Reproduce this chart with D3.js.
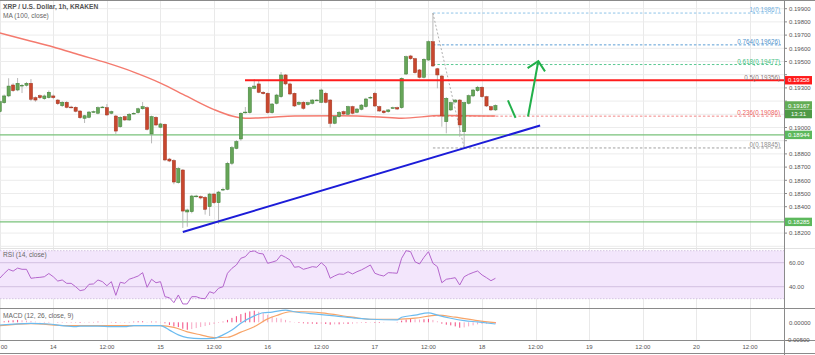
<!DOCTYPE html>
<html><head><meta charset="utf-8">
<script src="https://cdn.jsdelivr.net/npm/d3@7"></script>
<style>
body{margin:0;background:#fff;overflow:hidden}
text{font-family:"Liberation Sans","DejaVu Sans",sans-serif}
</style>
</head><body>
<svg id="chart" width="815" height="355"></svg>
<script>
// ---------------- DATA ----------------
// candles: 1h, index 0 = 13th 12:00
const candleOpen  = [0.19120,0.19188,0.19239,0.19322,0.19284,0.19317,0.19320,0.19335,0.19226,0.19241,0.19218,0.19226,0.19239,0.19208,0.19165,0.19191,0.19155,0.19153,0.19125,0.19070,0.19077,0.19118,0.19108,0.19153,0.19150,0.19108,0.19087,0.19006,0.19082,0.19057,0.19105,0.19112,0.19142,0.19150,0.18951,0.19077,0.19002,0.19024,0.18761,0.18750,0.18582,0.18678,0.18360,0.18362,0.18479,0.18476,0.18471,0.18400,0.18496,0.18430,0.18530,0.18532,0.18729,0.18841,0.18913,0.19112,0.19112,0.19297,0.19330,0.19267,0.19259,0.19112,0.19183,0.19233,0.19398,0.19330,0.19259,0.19176,0.19191,0.19173,0.19183,0.19206,0.19191,0.19259,0.19208,0.19032,0.19082,0.19120,0.19100,0.19158,0.19115,0.19138,0.19158,0.19226,0.19259,0.19158,0.19125,0.19120,0.19148,0.19150,0.19150,0.19405,0.19542,0.19521,0.19436,0.19380,0.19511,0.19650,0.19445,0.19390,0.19044,0.19133,0.19193,0.19208,0.18968,0.19183,0.19239,0.19279,0.19305,0.19233,0.19158,0.19133];
const candleHigh  = [0.19210,0.19250,0.19373,0.19335,0.19375,0.19330,0.19345,0.19367,0.19235,0.19250,0.19250,0.19280,0.19250,0.19215,0.19200,0.19200,0.19165,0.19160,0.19130,0.19095,0.19125,0.19128,0.19160,0.19162,0.19178,0.19128,0.19095,0.19085,0.19090,0.19110,0.19115,0.19150,0.19193,0.19160,0.19090,0.19085,0.19035,0.19030,0.18770,0.18760,0.18700,0.18685,0.18385,0.18490,0.18490,0.18485,0.18480,0.18505,0.18505,0.18520,0.18545,0.18740,0.18860,0.18905,0.19115,0.19155,0.19310,0.19367,0.19360,0.19275,0.19265,0.19185,0.19255,0.19420,0.19405,0.19340,0.19265,0.19200,0.19200,0.19195,0.19215,0.19215,0.19295,0.19270,0.19215,0.19090,0.19125,0.19128,0.19165,0.19165,0.19148,0.19178,0.19225,0.19237,0.19270,0.19165,0.19132,0.19140,0.19158,0.19158,0.19380,0.19545,0.19550,0.19528,0.19443,0.19525,0.19660,0.19867,0.19452,0.19398,0.19230,0.19195,0.19215,0.19215,0.19195,0.19250,0.19292,0.19315,0.19312,0.19240,0.19165,0.19175];
const candleLow   = [0.19110,0.19180,0.19230,0.19270,0.19275,0.19261,0.19310,0.19200,0.19195,0.19215,0.19210,0.19220,0.19215,0.19170,0.19155,0.19145,0.19145,0.19115,0.19065,0.19034,0.19070,0.19112,0.19100,0.19148,0.19088,0.19100,0.18951,0.18998,0.19050,0.19050,0.19100,0.19105,0.19135,0.18978,0.18880,0.19010,0.18995,0.18745,0.18738,0.18570,0.18575,0.18239,0.18248,0.18350,0.18470,0.18455,0.18340,0.18330,0.18420,0.18270,0.18520,0.18525,0.18715,0.18835,0.18900,0.19105,0.19105,0.19290,0.19260,0.19250,0.19105,0.19105,0.19175,0.19225,0.19320,0.19245,0.19155,0.19168,0.19135,0.19165,0.19175,0.19200,0.19185,0.19183,0.19000,0.19025,0.19075,0.19095,0.19092,0.19100,0.19108,0.19130,0.19150,0.19218,0.19155,0.19118,0.19105,0.19112,0.19142,0.19132,0.19142,0.19398,0.19512,0.19408,0.19372,0.19372,0.19505,0.19458,0.19297,0.19006,0.18956,0.19125,0.19185,0.18930,0.18845,0.19175,0.19230,0.19270,0.19225,0.19155,0.19125,0.19125];
const candleClose = [0.19196,0.19239,0.19314,0.19279,0.19335,0.19320,0.19335,0.19214,0.19208,0.19226,0.19239,0.19267,0.19226,0.19180,0.19191,0.19153,0.19153,0.19123,0.19074,0.19089,0.19117,0.19120,0.19150,0.19155,0.19095,0.19120,0.18973,0.19077,0.19057,0.19100,0.19108,0.19142,0.19158,0.18986,0.19082,0.19019,0.19027,0.18754,0.18746,0.18587,0.18689,0.18367,0.18375,0.18481,0.18481,0.18466,0.18380,0.18496,0.18430,0.18511,0.18532,0.18729,0.18847,0.18894,0.19108,0.19117,0.19302,0.19314,0.19267,0.19256,0.19112,0.19178,0.19246,0.19398,0.19330,0.19254,0.19163,0.19191,0.19145,0.19188,0.19208,0.19208,0.19284,0.19191,0.19032,0.19082,0.19115,0.19102,0.19158,0.19108,0.19140,0.19170,0.19216,0.19229,0.19163,0.19125,0.19112,0.19133,0.19150,0.19140,0.19373,0.19536,0.19521,0.19415,0.19380,0.19517,0.19650,0.19466,0.19398,0.19087,0.19221,0.19188,0.19208,0.19019,0.19188,0.19241,0.19284,0.19305,0.19233,0.19163,0.19133,0.19167];

// MA(100) read points
const maIdx = [0,6,12,18,24,30,36,42,48,52,55,60,66,76,85,90,99,111];
const maVal = [0.19716,0.19663,0.19610,0.19549,0.19489,0.19420,0.19337,0.19235,0.19136,0.19087,0.19070,0.19076,0.19087,0.19089,0.19080,0.19070,0.19091,0.19087];

// RSI(14) per candle
const rsiVal = [47,51,54.5,53,55.5,54.5,54.5,47,47.5,47.8,48.3,51,48.3,44.7,45.6,42.8,42.8,40,36.7,37.5,42,42.3,45.6,44.2,40.8,44.2,32.8,43.7,42.8,46.2,47.5,48.9,51.7,39.5,46.2,43.3,44.2,31.7,30.8,26.7,33.1,25.6,25.6,31.7,31.7,30.3,30,35.8,34.5,38.7,40,51.2,55.3,58.1,63.7,65,69.2,69.8,67.8,67.3,59.5,60.5,61.7,66.4,64.5,62.3,56.2,56.7,54.5,55.5,56.7,56.2,60,56.7,47,49,50.6,50.3,52.5,50.6,52.5,54,56,58.1,51.2,49.8,48.9,51.7,51.5,51.2,63.7,70,69.2,60.8,58.9,64.5,69.2,59.5,56.7,43.3,46.2,46.8,47.5,41.4,48.3,50.3,51.8,53.1,49.8,47.5,45,47];

// MACD(12,26,close,9)
const macdIdx = [0,7,11,14,17,18,22,25,28,30,36,38,40,42,45,48,50,52,54,57,59,61,64,66,71,75,80,83,89,90,93,96,98,101,104,107,111];
const macdVal = [-0.0008,-0.0003,-0.0005,-0.0010,-0.0013,-0.0011,-0.0011,-0.0013,-0.0013,-0.0010,-0.0010,-0.0023,-0.0037,-0.0045,-0.0048,-0.0047,-0.0037,-0.0023,-0.0003,0.0019,0.0028,0.0030,0.0036,0.0031,0.0024,0.0019,0.0012,0.0009,0.0007,0.0015,0.0021,0.0028,0.0021,0.0012,0.0005,0.0001,-0.0005];
const signalIdx = [0,7,15,22,30,36,39,42,45,48,51,54,57,60,62,65,68,72,79,83,89,93,98,102,107,111];
const signalVal = [-0.0010,-0.0004,-0.0010,-0.0010,-0.0010,-0.0010,-0.0015,-0.0028,-0.0037,-0.0045,-0.0044,-0.0029,-0.0013,0.0010,0.0020,0.0031,0.0031,0.0028,0.0015,0.0009,0.0009,0.0012,0.0021,0.0015,0.0005,-0.0001];
const histVal = [1,3,5,6,7,6,5,4,2,1,1,1,0,-1,-1,-1,-1,-1,-2,-1,1,1,2,1,0,1,-2,-1,-1,1,2,3,3,1,2,2,1,-3,-8,-12,-14,-19,-22,-20,-17,-14,-11,-8,-5,-2,2,7,13,18,24,28,32,34,31,28,22,17,13,11,7,3,-1,-2,-3,-4,-4,-5,-4,-5,-7,-6,-6,-5,-5,-4,-3,-2,-2,-1,-2,-2,-1,0,0,1,5,8,10,9,8,9,10,7,3,-4,-7,-9,-12,-16,-15,-12,-9,-6,-5,-4,-3,-3].map(v => v * 0.0001);

// axis labels
const priceTicks = [0.182,0.183,0.184,0.185,0.186,0.187,0.188,0.189,0.190,0.191,0.192,0.193,0.194,0.195,0.196,0.197,0.198,0.199];
const timeTickIdx = [0,12,24,36,48,60,72,84,96,108,120,132,144,156,168];
const timeTickLabels = ["00","14","12:00","15","12:00","16","12:00","17","12:00","18","12:00","19","12:00","20","12:00"];
const rsiTicks = [60,40];
const macdTicks = [0,-0.005];

// levels / drawings
const fibRatios = [1,0.764,0.618,0.5,0.236,0];
const fibPrices = [0.19867,0.19626,0.19477,0.19356,0.19086,0.18845];
const fibAnchorIdx = [97,104];
const resistancePrice = 0.19358;
const supportPrices = [0.18944,0.18285];
const lastPrice = 0.19167;
const countdown = "13:31";
const trendIdx = [41,121];
const trendPrice = [0.18208,0.19015];
const arrowDownIdx = [113.8,115.5], arrowDownPrice = [0.19205,0.19073];
const arrowUpIdx = [118.3,120.6], arrowUpPrice = [0.19083,0.19502];
const arrowHeadIdx = [118.2,120.6,122.1], arrowHeadPrice = [0.19450,0.19502,0.19425];

// ---------------- DRAW ----------------
const svg = d3.select("#chart");
const axisX = 784.5;
const mainBottom = 248, rsiBottom = 308.5, macdBottom = 340.5;

const x = d3.scaleLinear().domain([0,168]).range([-0.3,750]);
const y = d3.scaleLinear().domain([0.182,0.199]).range([233.1,8.7]);
const yR = d3.scaleLinear().domain([30,70]).range([298.7,250.7]);
const yM = d3.scaleLinear().domain([-0.005,0]).range([339.3,322.3]);

const defs = svg.append("defs");
defs.append("clipPath").attr("id","cMain").append("rect").attr("x",0).attr("y",0).attr("width",axisX).attr("height",mainBottom);
defs.append("clipPath").attr("id","cRsi").append("rect").attr("x",0).attr("y",mainBottom).attr("width",axisX).attr("height",rsiBottom-mainBottom);
defs.append("clipPath").attr("id","cMacd").append("rect").attr("x",0).attr("y",rsiBottom).attr("width",axisX).attr("height",macdBottom-rsiBottom);
defs.append("clipPath").attr("id","cPlot").append("rect").attr("x",0).attr("y",0).attr("width",axisX).attr("height",355);

const grid = svg.append("g").attr("clip-path","url(#cPlot)");
grid.selectAll(".vg").data(timeTickIdx).join("line")
  .attr("x1",d=>Math.round(x(d))+0.5).attr("x2",d=>Math.round(x(d))+0.5)
  .attr("y1",0).attr("y2",macdBottom).attr("stroke","#e9e9e9").attr("stroke-width",1);
const mainG = svg.append("g").attr("clip-path","url(#cMain)");
mainG.selectAll(".hg").data(priceTicks.concat([0.181])).join("line")
  .attr("x1",0).attr("x2",axisX).attr("y1",d=>y(d)).attr("y2",d=>y(d))
  .attr("stroke","#ececec").attr("stroke-width",1);

// RSI pane
const rsiG = svg.append("g").attr("clip-path","url(#cRsi)");
rsiG.append("rect").attr("x",0).attr("width",axisX).attr("y",yR(70)).attr("height",yR(30)-yR(70)).attr("fill","#f3e6fc");
rsiG.selectAll(".rb").data([70,30]).join("line").attr("x1",0).attr("x2",axisX)
  .attr("y1",d=>yR(d)).attr("y2",d=>yR(d)).attr("stroke","#d3c3e0").attr("stroke-dasharray","1.5,1.5");
rsiG.selectAll(".rl").data(rsiTicks).join("line").attr("x1",0).attr("x2",axisX)
  .attr("y1",d=>yR(d)).attr("y2",d=>yR(d)).attr("stroke","#d2bfe0").attr("stroke-width",1);
rsiG.append("path").datum(rsiVal).attr("fill","none").attr("stroke","#b466cc").attr("stroke-width",1)
  .attr("d",d3.line().x((d,i)=>x(i)).y(d=>yR(d)));

// MACD pane
const macdG = svg.append("g").attr("clip-path","url(#cMacd)");
macdG.selectAll(".hb").data(histVal).join("line")
  .attr("x1",(d,i)=>x(i)).attr("x2",(d,i)=>x(i))
  .attr("y1",yM(0)).attr("y2",d=>yM(d))
  .attr("stroke",(d,i)=> (i>0 && Math.abs(d)>=Math.abs(histVal[i-1])) ? "#f2487f" : "#f7a6c3")
  .attr("stroke-width",1);
macdG.append("path").datum(signalIdx.map((d,i)=>[d,signalVal[i]])).attr("fill","none")
  .attr("stroke","#f7a468").attr("stroke-width",1.2)
  .attr("d",d3.line().curve(d3.curveMonotoneX).x(d=>x(d[0])).y(d=>yM(d[1])));
macdG.append("path").datum(macdIdx.map((d,i)=>[d,macdVal[i]])).attr("fill","none")
  .attr("stroke","#6cbcf0").attr("stroke-width",1.2)
  .attr("d",d3.line().curve(d3.curveMonotoneX).x(d=>x(d[0])).y(d=>yM(d[1])));

// support lines
mainG.selectAll(".sp").data(supportPrices).join("line").attr("x1",0).attr("x2",axisX)
  .attr("y1",d=>y(d)).attr("y2",d=>y(d)).attr("stroke","#79c27a").attr("stroke-width",1.3);

// fib lines
const fibColors = ["#8fc4e8","#5d9fd5","#59c891","#8b7d7d","#f28585","#a0a0a0"];
const fibTextColors = ["#6fb0df","#4f92cc","#3fbf7f","#8a7878","#ef5f5f","#8f8f8f"];
mainG.selectAll(".fl").data(fibPrices).join("line")
  .attr("x1",x(fibAnchorIdx[0])).attr("x2",781)
  .attr("y1",d=>y(d)).attr("y2",d=>y(d))
  .attr("stroke",(d,i)=>fibColors[i]).attr("stroke-width",1).attr("stroke-dasharray","2.5,2");
mainG.append("line")
  .attr("x1",x(fibAnchorIdx[0])).attr("y1",y(fibPrices[0]))
  .attr("x2",x(fibAnchorIdx[1])).attr("y2",y(fibPrices[5]))
  .attr("stroke","#b0b0b0").attr("stroke-width",1).attr("stroke-dasharray","2,2");

// MA
mainG.append("path").datum(maIdx.map((d,i)=>[d,maVal[i]])).attr("fill","none")
  .attr("stroke","#f47a6e").attr("stroke-width",1.4)
  .attr("d",d3.line().curve(d3.curveMonotoneX).x(d=>x(d[0])).y(d=>y(d[1])));

// candles
const idx = d3.range(candleOpen.length);
const cg = mainG.append("g");
cg.selectAll(".wk").data(idx).join("line")
  .attr("x1",i=>x(i)).attr("x2",i=>x(i))
  .attr("y1",i=>y(candleHigh[i])).attr("y2",i=>y(candleLow[i]))
  .attr("stroke","#a8a8a8").attr("stroke-width",0.8);
cg.selectAll(".bd").data(idx).join("rect")
  .attr("x",i=>x(i)-1.6).attr("width",3.2)
  .attr("y",i=>y(Math.max(candleOpen[i],candleClose[i])))
  .attr("height",i=>Math.max(0.8,Math.abs(y(candleOpen[i])-y(candleClose[i]))))
  .attr("fill",i=>candleClose[i]>=candleOpen[i]?"#66a558":"#c8472e")
  .attr("stroke",i=>candleClose[i]>=candleOpen[i]?"#3f7f37":"#a03420")
  .attr("stroke-width",0.5);

// resistance line
mainG.append("line").attr("x1",245).attr("x2",axisX).attr("y1",y(resistancePrice)).attr("y2",y(resistancePrice))
  .attr("stroke","#ff1c1c").attr("stroke-width",2);

// trendline
mainG.append("line").attr("x1",x(trendIdx[0])).attr("y1",y(trendPrice[0]))
  .attr("x2",x(trendIdx[1])).attr("y2",y(trendPrice[1]))
  .attr("stroke","#1c1cd8").attr("stroke-width",2);

// green arrows
const gl = d3.line().x(d=>x(d[0])).y(d=>y(d[1]));
mainG.append("path").attr("d",gl(arrowDownIdx.map((d,i)=>[d,arrowDownPrice[i]])))
  .attr("stroke","#22b04a").attr("stroke-width",2).attr("fill","none");
mainG.append("path").attr("d",gl(arrowUpIdx.map((d,i)=>[d,arrowUpPrice[i]])))
  .attr("stroke","#22b04a").attr("stroke-width",2).attr("fill","none");
mainG.append("path").attr("d",gl(arrowHeadIdx.map((d,i)=>[d,arrowHeadPrice[i]])))
  .attr("stroke","#22b04a").attr("stroke-width",2).attr("fill","none").attr("stroke-linejoin","miter");

// fib labels (sit just above their lines)
mainG.selectAll(".ft").data(fibPrices).join("text")
  .attr("x",780).attr("y",d=>y(d)-0.8).attr("text-anchor","end")
  .attr("font-size",6.3).attr("fill",(d,i)=>fibTextColors[i])
  .text((d,i)=>`${fibRatios[i]}(${d.toFixed(5)})`);

// pane labels
svg.append("text").attr("x",3).attr("y",9).attr("font-size",6.6).attr("font-weight","bold").attr("fill","#555").text("XRP / U.S. Dollar, 1h, KRAKEN");
svg.append("text").attr("x",3).attr("y",17.5).attr("font-size",6.6).attr("fill","#666").text("MA (100, close)");
svg.append("text").attr("x",3).attr("y",257).attr("font-size",6.6).attr("fill","#666").text("RSI (14, close)");
svg.append("text").attr("x",3).attr("y",318).attr("font-size",6.6).attr("fill","#666").text("MACD (12, 26, close, 9)");

// frame / separators
svg.append("line").attr("x1",0).attr("x2",815).attr("y1",0.5).attr("y2",0.5).attr("stroke","#8a8a8a").attr("stroke-width",1);
svg.append("line").attr("x1",0).attr("x2",815).attr("y1",mainBottom+0.5).attr("y2",mainBottom+0.5).attr("stroke","#e2e2e2");
svg.append("line").attr("x1",0).attr("x2",815).attr("y1",rsiBottom).attr("y2",rsiBottom).attr("stroke","#8a8a8a");
svg.append("line").attr("x1",0).attr("x2",815).attr("y1",macdBottom).attr("y2",macdBottom).attr("stroke","#8a8a8a");
svg.append("line").attr("x1",0).attr("x2",815).attr("y1",353.5).attr("y2",353.5).attr("stroke","#8a8a8a");
svg.append("line").attr("x1",axisX).attr("x2",axisX).attr("y1",0).attr("y2",355).attr("stroke","#8a8a8a");

// price axis: labels hidden where a price box covers them
const boxPrices = [resistancePrice, supportPrices[0], supportPrices[1], lastPrice];
const boxYs = boxPrices.map(p=>y(p)).concat([y(lastPrice)+8.6]);
const visibleTicks = priceTicks.filter(t => boxYs.every(by => Math.abs(y(t)-by) > 6));
const axT = svg.append("g");
axT.selectAll(".pt").data(visibleTicks).join("text").attr("x",789).attr("y",d=>y(d)+2.2)
  .attr("font-size",6).attr("fill","#555").text(d=>d.toFixed(5));
axT.selectAll(".ptk").data(priceTicks).join("line").attr("x1",axisX).attr("x2",axisX+2.5)
  .attr("y1",d=>y(d)).attr("y2",d=>y(d)).attr("stroke","#8a8a8a");
axT.selectAll(".rt").data(rsiTicks).join("text").attr("x",789).attr("y",d=>yR(d)+2.2)
  .attr("font-size",6).attr("fill","#555").text(d=>d.toFixed(2));
axT.selectAll(".mt").data(macdTicks).join("text").attr("x",d=>d<0?786:789).attr("y",d=>yM(d)+2.2)
  .attr("font-size",6).attr("fill","#555").text(d=>d.toFixed(5));

// price boxes
function box(price, fill, label){
  const yy = y(price);
  svg.append("rect").attr("x",axisX+0.5).attr("y",yy-4.2).attr("width",27).attr("height",8.4).attr("fill",fill);
  svg.append("text").attr("x",788).attr("y",yy+2.2).attr("font-size",6).attr("fill","#fff").text(label);
}
box(resistancePrice,"#ff1a1a",resistancePrice.toFixed(5));
box(supportPrices[0],"#5cb85c",supportPrices[0].toFixed(5));
box(supportPrices[1],"#5cb85c",supportPrices[1].toFixed(5));
box(lastPrice,"#63ad55",lastPrice.toFixed(5));
{
  const yy = y(lastPrice)+8.6;
  svg.append("rect").attr("x",axisX+0.5).attr("y",yy-4.2).attr("width",27).attr("height",8.4).attr("fill","#4e9a45");
  svg.append("text").attr("x",791).attr("y",yy+2.2).attr("font-size",6).attr("fill","#fff").text(countdown);
}

// time axis
svg.append("g").selectAll(".tt").data(timeTickIdx).join("text")
  .attr("x",d=>Math.max(x(d),4)).attr("y",349).attr("text-anchor","middle").attr("font-size",6)
  .attr("fill","#555").text((d,i)=>timeTickLabels[i]);
</script>
</body></html>
